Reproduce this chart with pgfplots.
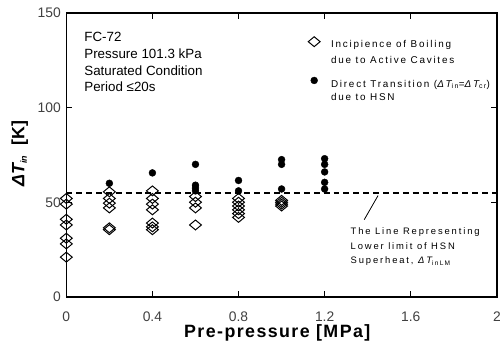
\documentclass[border=0pt]{standalone}
\usepackage{pgfplots}
\pgfplotsset{compat=1.18}
\usepackage{fontspec}
\setmainfont{Liberation Sans}
\newfontfamily\lsfont[LetterSpace=18]{Liberation Sans}
\newfontfamily\anfont[LetterSpace=20]{Liberation Sans}
\newfontfamily\lbfont[LetterSpace=8]{Liberation Sans}
\begin{document}
\begin{tikzpicture}
\begin{axis}[
  scale only axis, width=435pt, height=287pt,
  xmin=0, xmax=2, ymin=0, ymax=150,
  xtick={0,0.4,0.8,1.2,1.6,2}, xticklabels={0,0.4,0.8,1.2,1.6,2},
  ytick={0,50,100,150},
  tick align=inside, major tick length=6pt,
  every tick/.style={black, line width=1pt},
  axis line style={line width=1.6pt},
  /pgf/number format/assume math mode=true,
  tick label style={font=\fontsize{14}{14}\selectfont, text=black!75},
  xticklabel style={yshift=-12pt},
  yticklabel style={xshift=-2pt},
  clip=false,
  legend style={at={(axis cs:1.123,137.5)}, anchor=north west, draw=none, fill=none,
    inner sep=0pt, row sep=6.5pt,
    font=\lsfont\fontsize{10}{10}\selectfont,
    nodes={inner sep=0pt, text height=7pt, text depth=2.5pt}},
  legend cell align=left,
  legend image code/.code={\draw[#1] plot coordinates {(0.1cm,0.12cm)}; \path[draw=none] (0.1cm,0.12cm) -- ++(17pt,0);},
]
% dashed line: lower limit of HSN superheat
\addplot[black, line width=1.6pt, dash pattern=on 6pt off 4pt, forget plot] coordinates {(0,55) (2,55)};
% incipience of boiling (open diamonds)
\addplot[only marks, mark=diamond, mark size=5pt, mark options={xscale=1.6, line width=1pt, fill=white}, black] coordinates {
(0,52) (0,49) (0,41) (0,38) (0,31) (0,28) (0,21)
(0.2,55.5) (0.2,52) (0.2,49.5) (0.2,47) (0.2,36.5) (0.2,35.5)
(0.4,56) (0.4,52) (0.4,49) (0.4,46) (0.4,39) (0.4,37) (0.4,35.5)
(0.6,53) (0.6,50) (0.6,47) (0.6,38)
(0.8,52) (0.8,50) (0.8,48) (0.8,46) (0.8,44) (0.8,42)
(1.0,51) (1.0,50) (1.0,49) (1.0,48)
};
\addlegendentry{Incipience of Boiling}
\addlegendimage{empty legend}
\addlegendentry[text depth=7.5pt]{due to Active Cavites}
% direct transition due to HSN (filled)
\addplot[only marks, mark=*, mark size=3.5pt, black] coordinates {
(0.2,60)
(0.4,65.5)
(0.6,70) (0.6,59) (0.6,57.5) (0.6,56)
(0.8,61.5) (0.8,56)
(1.0,72.5) (1.0,70) (1.0,57)
(1.2,73) (1.2,70) (1.2,66) (1.2,60.5) (1.2,57)
};
\addlegendentry[text depth=0.5pt]{Direct Transition ({\itshape ΔT}\textsubscript{in}={\itshape ΔT}\textsubscript{cr})}
\addlegendimage{empty legend}
\addlegendentry{due to HSN}
% axis labels
\node[anchor=center] at (rel axis cs:0.49,-0.128) {\lbfont\bfseries\fontsize{18}{18}\selectfont Pre-pressure [MPa]};
\node[anchor=center, rotate=90] at (rel axis cs:-0.108,0.505) {\bfseries\fontsize{18}{18}\selectfont {\itshape ΔT}\textsubscript{\itshape\fontsize{9}{9}\selectfont in}\ \ [K]};
% top-left annotation
\node[anchor=west, inner sep=0pt] at (axis cs:0.083,137.5) {\fontsize{13.5}{13.5}\selectfont FC-72};
\node[anchor=west, inner sep=0pt] at (axis cs:0.083,128.3) {\fontsize{13.5}{13.5}\selectfont Pressure 101.3 kPa};
\node[anchor=west, inner sep=0pt] at (axis cs:0.083,119.7) {\fontsize{13.5}{13.5}\selectfont Saturated Condition};
\node[anchor=west, inner sep=0pt] at (axis cs:0.083,110.8) {\fontsize{13.5}{13.5}\selectfont Period ≤20s};
% lower-limit annotation
\draw[line width=0.8pt] (axis cs:1.448,53.5) -- (axis cs:1.384,40.8);
\node[anchor=west, inner sep=0pt] at (axis cs:1.32,34) {\anfont\fontsize{9.5}{9.5}\selectfont The Line Representing};
\node[anchor=west, inner sep=0pt] at (axis cs:1.32,26.7) {\anfont\fontsize{9.5}{9.5}\selectfont Lower limit of HSN};
\node[anchor=west, inner sep=0pt] at (axis cs:1.32,18.9) {\anfont\fontsize{9.5}{9.5}\selectfont Superheat, {\itshape ΔT}\textsubscript{inLM}};
\end{axis}
\path[use as bounding box] (-67pt,-50pt) rectangle (437pt,300pt);
\end{tikzpicture}
\end{document}
